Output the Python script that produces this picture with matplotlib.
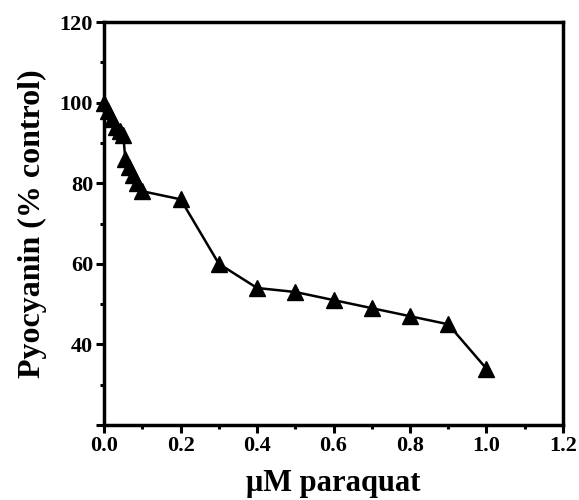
import matplotlib
matplotlib.use("Agg")
import matplotlib.pyplot as plt
from matplotlib.ticker import MultipleLocator

# paraquat concentration (uM) and pyocyanin (% of control)
paraquat = [0.0, 0.01, 0.02, 0.03, 0.04, 0.05, 0.055, 0.065, 0.075, 0.085, 0.1,
            0.2, 0.3, 0.4, 0.5, 0.6, 0.7, 0.8, 0.9, 1.0]
pyocyanin = [100, 98, 96, 94, 93, 92, 86, 84, 82, 80, 78,
             76, 60, 54, 53, 51, 49, 47, 45, 34]

x_ticks = [0.0, 0.2, 0.4, 0.6, 0.8, 1.0, 1.2]
y_ticks = [20, 40, 60, 80, 100, 120]
y_labels = ["", "40", "60", "80", "100", "120"]

plt.rcParams["font.family"] = ["Liberation Serif", "DejaVu Serif"]
plt.rcParams["font.weight"] = "bold"

fig = plt.figure(figsize=(5.79, 5.0), dpi=100)
ax = fig.add_axes([0.18, 0.15, 0.792, 0.806])

ax.plot(paraquat, pyocyanin, color="black", lw=1.8, marker="^", ms=11,
        markerfacecolor="black", markeredgecolor="black", clip_on=False)

ax.set_xlim(0, 1.2)
ax.set_ylim(20, 120)
ax.set_xticks(x_ticks)
ax.set_xticklabels([f"{v:.1f}" for v in x_ticks])
ax.set_yticks(y_ticks)
ax.set_yticklabels(y_labels)
ax.xaxis.set_minor_locator(MultipleLocator(0.1))
ax.yaxis.set_minor_locator(MultipleLocator(10))

for s in ax.spines.values():
    s.set_linewidth(2.5)
ax.tick_params(which="major", direction="out", length=6, width=2.2, labelsize=16, pad=2)
ax.tick_params(which="minor", direction="out", length=3, width=2.2)
ax.tick_params(axis="x", which="both", top=False)
ax.tick_params(axis="y", which="both", right=False)
for lab in ax.get_xticklabels() + ax.get_yticklabels():
    lab.set_fontweight("bold")

ax.set_xlabel("\u03bcM paraquat", fontsize=22, fontweight="bold", labelpad=9)
ax.set_ylabel("Pyocyanin (% control)", fontsize=23, fontweight="bold", labelpad=9)

fig.savefig("out.png", dpi=100)
